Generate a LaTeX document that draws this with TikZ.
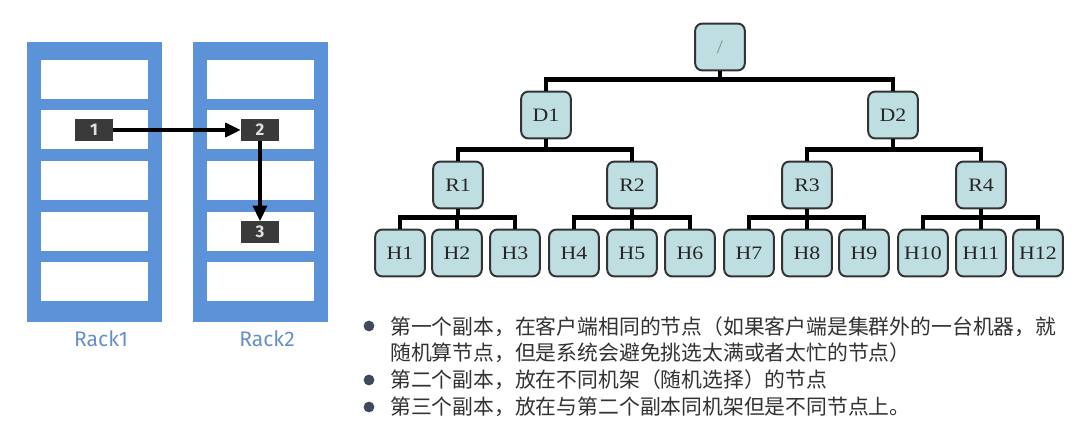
\documentclass[tikz,border=0pt]{standalone}
\usepackage{fontspec}
\usetikzlibrary{arrows.meta}
\newfontfamily\treefont[FakeStretch=1.15]{Liberation Serif}
\newfontfamily\cjkfont{Noto Sans CJK SC}
\newfontfamily\rackfont{Fira Sans}
\definecolor{rackblue}{RGB}{91,146,216}
\definecolor{labelblue}{RGB}{103,143,204}
\definecolor{nodefill}{RGB}{191,222,225}
\definecolor{nodeline}{RGB}{51,51,51}
\definecolor{diskdark}{RGB}{58,58,58}
\definecolor{textgray}{RGB}{50,50,50}
\definecolor{dotgray}{RGB}{62,74,92}

\begin{document}
\begin{tikzpicture}[x=0.025cm,y=-0.025cm,
		treebox/.style={draw=nodeline,line width=1.4pt,fill=nodefill,rounded corners=5pt,minimum width=1.24cm,minimum height=1.17cm,inner sep=0pt,text=black!85,font=\treefont\fontsize{13.5}{14}\selectfont},
		treeline/.style={line width=3.4pt,black},
		disk/.style={fill=diskdark,minimum width=0.95cm,minimum height=0.53cm,inner sep=0pt,text=white!88!black,font=\rackfont\bfseries\fontsize{12}{13}\selectfont},
		hop/.style={line width=2.2pt,-{Triangle[length=11pt,width=10pt]}},
		racklabel/.style={text=labelblue,font=\rackfont\fontsize{15}{17}\selectfont},
		bullet/.style={circle,fill=dotgray,minimum size=0.27cm,inner sep=0pt},
		notetext/.style={anchor=west,inner sep=0pt,text=textgray,font=\cjkfont\fontsize{14.8}{18}\selectfont}]
		
		\fill[white] (0,0) rectangle (1080,433);
		\useasboundingbox (0,0) rectangle (1080,433);
		
		\foreach \rx in {27,193} {
			\fill[rackblue] (\rx,42) rectangle ++(135,280);
			\foreach \sy in {60,110.5,161,211.5,262}
				\fill[white] (\rx+14,\sy) rectangle ++(107,39);
		}
		\node[racklabel] (rack1) at (101,339) {Rack1};
		\node[racklabel] (rack2) at (267,339) {Rack2};
		
		\node[disk] (n1) at (94,130) {1};
		\node[disk] (n2) at (260,130) {2};
		\node[disk] (n3) at (260,232) {3};
		\draw[hop] (n1) -- (n2);
		\draw[hop] (n2) -- (n3);
		
		\node[treebox,text=black!45] (root) at (720,47) {/};
		\node[treebox] (D1) at (546,115) {D1};
		\node[treebox] (D2) at (893,115) {D2};
		\node[treebox] (R1) at (458,185) {R1};
		\node[treebox] (R2) at (632,185) {R2};
		\node[treebox] (R3) at (807,185) {R3};
		\node[treebox] (R4) at (981,185) {R4};
		\foreach \hx [count=\i] in {400,457,515,574,632,690,749,807,864,923,981,1038}
			\node[treebox] (H\i) at (\hx,253) {H\i};
		
		\foreach \p/\c in {root/D1,root/D2,D1/R1,D1/R2,D2/R3,D2/R4,R1/H1,R1/H2,R1/H3,R2/H4,R2/H5,R2/H6,R3/H7,R3/H8,R3/H9,R4/H10,R4/H11,R4/H12}
			\draw[treeline] (\c.north) -- ++(0,-11) -| (\p.south);
		
		\node[bullet] (b1) at (369,326) {};
		\node[notetext] (t1) at (390,327) {第一个副本，在客户端相同的节点（如果客户端是集群外的一台机器，就};
		\node[notetext] (t2) at (390,353) {随机算节点，但是系统会避免挑选太满或者太忙的节点）};
		\node[bullet] (b2) at (369,380) {};
		\node[notetext] (t3) at (390,380) {第二个副本，放在不同机架（随机选择）的节点};
		\node[bullet] (b3) at (369,407) {};
		\node[notetext] (t4) at (390,407) {第三个副本，放在与第二个副本同机架但是不同节点上。};
	\end{tikzpicture}
\end{document}
